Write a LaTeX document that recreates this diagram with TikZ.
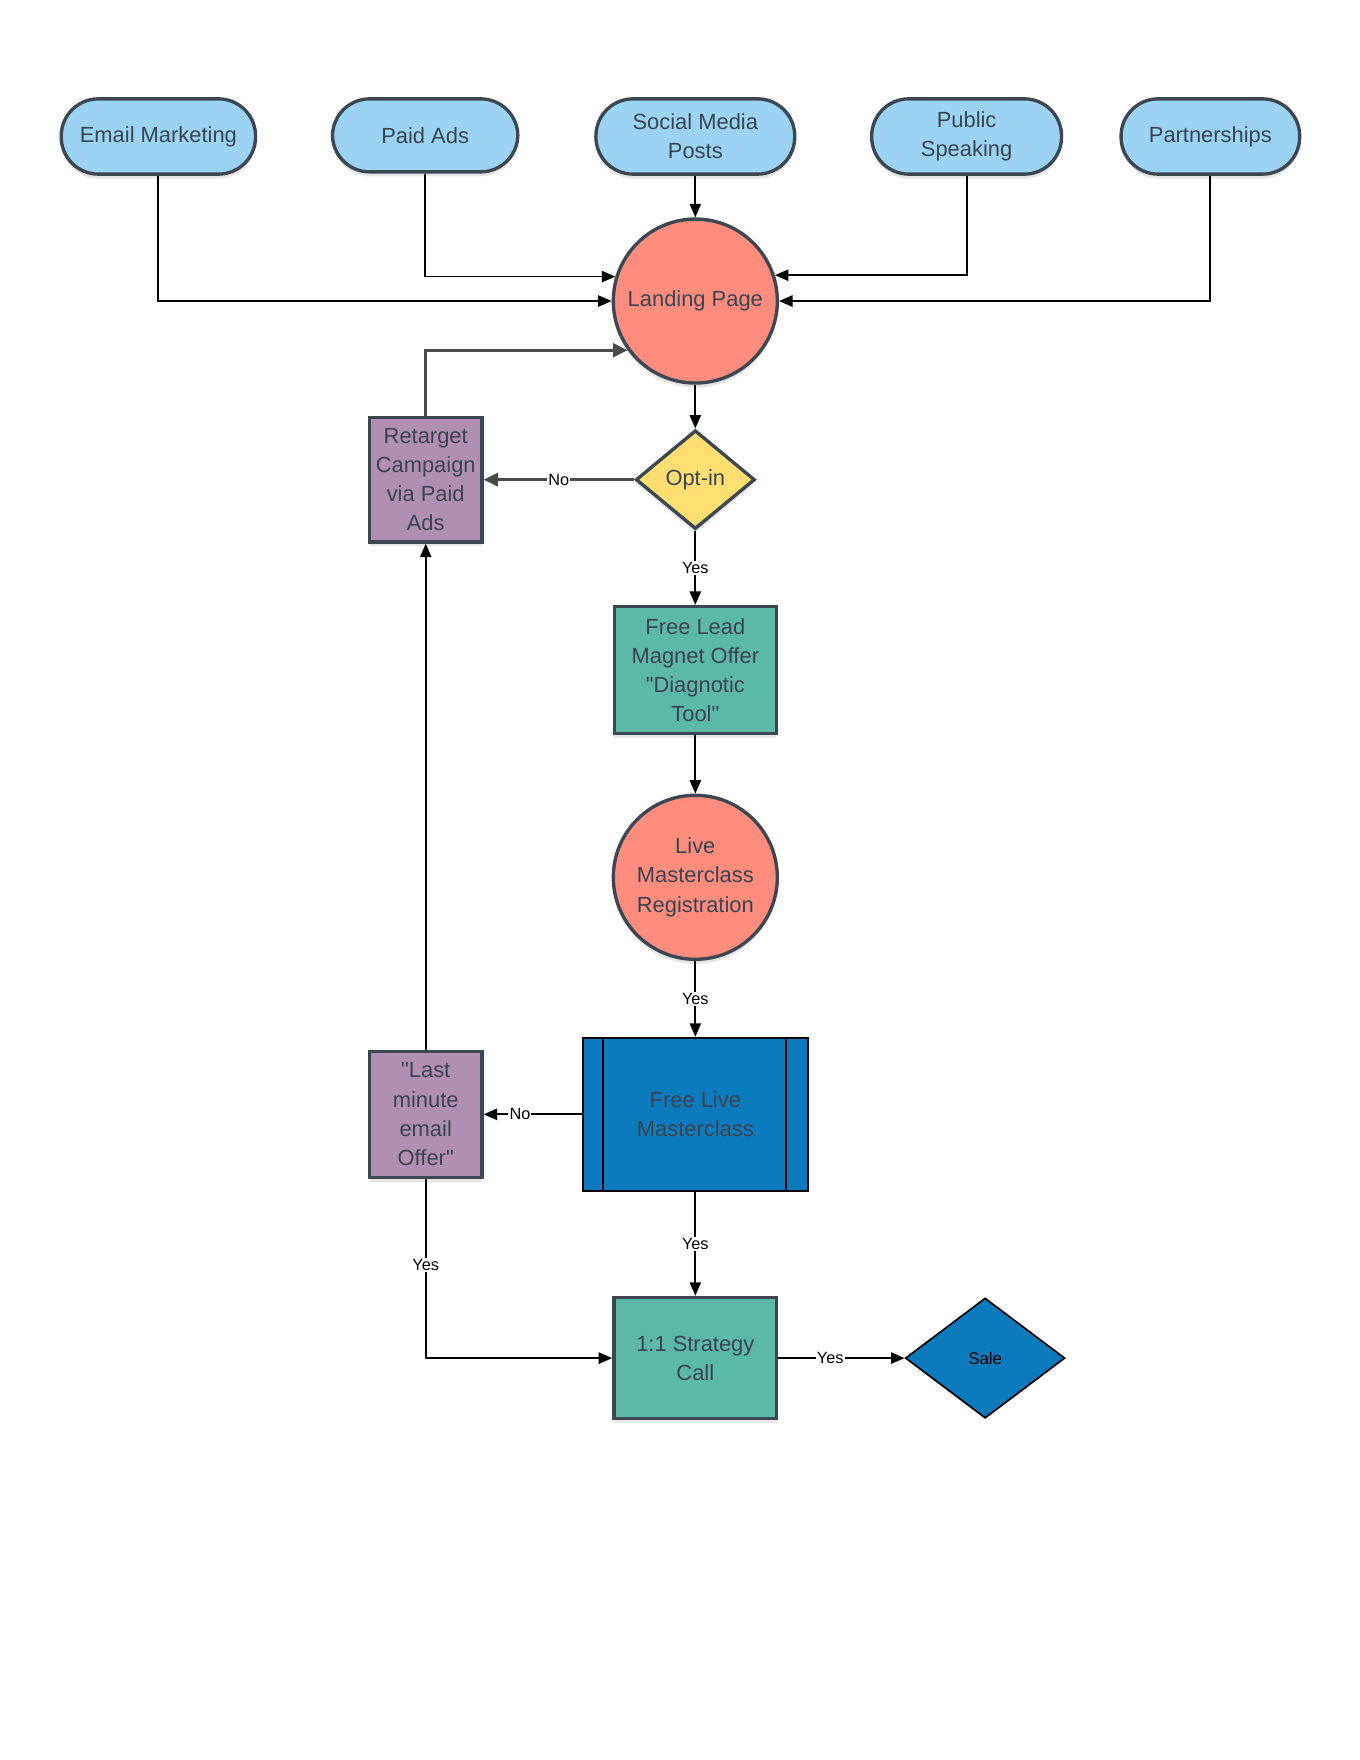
\documentclass[tikz,border=0pt]{standalone}
\usepackage{fontspec}
\setmainfont{Liberation Sans}[Ligatures=TeXOff]
\usetikzlibrary{arrows.meta,shapes.geometric,shadows}
\definecolor{bord}{HTML}{3C4752}
\definecolor{txt}{HTML}{3A4450}
\definecolor{pillblue}{HTML}{9BD3F3}
\definecolor{salmon}{HTML}{FF8D7E}
\definecolor{yell}{HTML}{FFDF71}
\definecolor{teal}{HTML}{5BB9A5}
\definecolor{purp}{HTML}{B18FB5}
\definecolor{dblue}{HTML}{0C7BBD}
\definecolor{greyline}{HTML}{4A4A4A}
\begin{document}
\begin{tikzpicture}[x=1pt,y=-1pt,
  base/.style={draw=bord, line width=3pt, text=txt, align=center, inner sep=0pt,
    font=\fontsize{19.5}{26}\selectfont,
    drop shadow={shadow xshift=0pt, shadow yshift=-4pt, opacity=0.10, fill=black}},
  pill/.style={base, rectangle, rounded corners=33pt, fill=pillblue, minimum height=67pt},
  circ/.style={base, circle, fill=salmon, minimum size=146pt},
  dia/.style={base, diamond, fill=yell, minimum width=106pt, minimum height=88pt},
  conn/.style={draw=black, line width=1.6pt, -{Triangle[length=12pt,width=10pt]}},
  gconn/.style={draw=greyline, line width=3pt, -{Triangle[length=13pt,width=12pt]}},
  lab/.style={fill=white, inner sep=1pt, text=black, font=\fontsize{14.5}{16}\selectfont}
]
\fill[white] (0,0) rectangle (1210.7,1566.8);
\useasboundingbox (0,0) rectangle (1210.7,1566.8);

% top pills
\node[pill, minimum width=173pt] (em) at (141,121.5) {Email Marketing};
\node[pill, minimum width=165pt, minimum height=65pt] (pa) at (378.5,120.5) {Paid Ads};
\node[pill, minimum width=177pt] (sm) at (619,121.5) {Social Media\\Posts};
\node[pill, minimum width=169pt] (ps) at (860.5,121.5) {Public\\Speaking};
\node[pill, minimum width=159pt] (pt) at (1077.5,121.5) {Partnerships};

% landing page
\node[circ] (lp) at (619,268) {Landing Page};

% retarget
\node[base, fill=purp, minimum width=100pt, minimum height=111pt] (rt) at (379,427) {\raisebox{2pt}{\parbox{100pt}{\centering Retarget\\Campaign\\via Paid\\Ads}}};

% opt-in
\node[dia] (oi) at (619,427) {Opt-in};

% free lead
\node[base, fill=teal, minimum width=144pt, minimum height=113pt] (fl) at (619,596.5) {\raisebox{3pt}{\parbox{144pt}{\centering Free Lead\\Magnet Offer\\"Diagnotic\\Tool"}}};

% live masterclass registration
\node[circ] (lr) at (619,781) {Live\\Masterclass\\Registration};

% free live masterclass (predefined process)
\node[draw=black, line width=2pt, fill=dblue, text=txt, align=center, inner sep=0pt,
  font=\fontsize{19.5}{26}\selectfont, minimum width=200pt, minimum height=136pt] (fm) at (619,992) {Free Live\\Masterclass};
\draw[black, line width=2pt] ([xshift=19pt]fm.north west) -- ([xshift=19pt]fm.south west);
\draw[black, line width=2pt] ([xshift=-20pt]fm.north east) -- ([xshift=-20pt]fm.south east);

% last minute email offer
\node[base, fill=purp, minimum width=100pt, minimum height=112pt] (lm) at (379,992) {\raisebox{2pt}{\parbox{100pt}{\centering "Last\\minute\\email\\Offer"}}};

% strategy call
\node[base, fill=teal, minimum width=145pt, minimum height=108pt] (sc) at (619,1209) {1:1 Strategy\\Call};

% sale
\node[draw=black, line width=1.5pt, fill=dblue, diamond, inner sep=0pt, minimum width=142pt, minimum height=107pt,
  text=black, font=\fontsize{15}{18}\selectfont] (sale) at (877,1209) {Sale};

% connectors into landing page
\draw[conn] (em.south) |- (lp.west);
\draw[conn] (pa.south) |- (lp.163);
\draw[conn] (sm.south) -- (lp.north);
\draw[conn] (ps.south) |- (lp.18);
\draw[conn] (pt.south) |- (lp.east);
\draw[gconn] (rt.north) |- (lp.216);

% main flow
\draw[conn] (lp.south) -- (oi.north);
\draw[draw=greyline, line width=2.5pt, -{Triangle[length=13pt,width=12pt]}] (oi.west) -- node[lab, pos=0.5] {No} (rt.east);
\draw[conn] (oi.south) -- node[lab] {Yes} (fl.north);
\draw[conn] (fl.south) -- (lr.north);
\draw[conn] (lr.south) -- node[lab] {Yes} (fm.north);
\draw[conn] (fm.west) -- node[lab, pos=0.63] {No} (lm.east);
\draw[conn] (lm.north) -- (rt.south);
\draw[conn] (lm.south) |- node[lab, pos=0.24] {Yes} (sc.west);
\draw[conn] (fm.south) -- node[lab] {Yes} (sc.north);
\draw[conn] (sc.east) -- node[lab, pos=0.41] {Yes} (sale.west);
\end{tikzpicture}
\end{document}
